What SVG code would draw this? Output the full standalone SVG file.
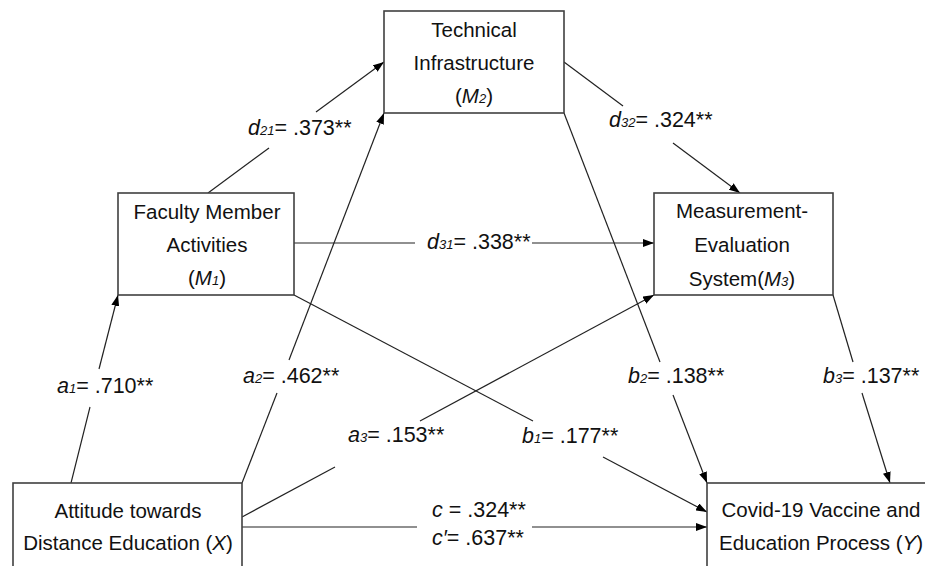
<svg xmlns="http://www.w3.org/2000/svg" width="925" height="566" viewBox="0 0 925 566">
<style>
.box{fill:#fff;stroke:#404040;stroke-width:1.6}
.t{font-family:"Liberation Sans",Arial,sans-serif;font-size:20.5px;fill:#111;text-anchor:middle}
.l{font-family:"Liberation Sans",Arial,sans-serif;font-size:21.5px;fill:#111}
.i{font-style:italic}
.s{font-style:italic;font-size:13px}
.c{stroke:#222;stroke-width:1.2;fill:none}
</style>
<defs>
<marker id="ah" markerWidth="11" markerHeight="8" refX="11" refY="4" orient="auto" markerUnits="userSpaceOnUse">
<path d="M0,0 L11,4 L0,8 z" fill="#000"/>
</marker>
</defs>
<g id="connectors">
<path class="c" d="M208,193 L269,148"/>
<path class="c" d="M316,112 L384,62" marker-end="url(#ah)"/>
<path class="c" d="M564,62 L623,106"/>
<path class="c" d="M673,143 L740,193" marker-end="url(#ah)"/>
<path class="c" d="M294,243 L415,243"/>
<path class="c" d="M532,243 L654,243" marker-end="url(#ah)"/>
<path class="c" d="M71,483 L90,407"/>
<path class="c" d="M99,369 L118,295" marker-end="url(#ah)"/>
<path class="c" d="M242,483 L277,393"/>
<path class="c" d="M289,360 L384,113" marker-end="url(#ah)"/>
<path class="c" d="M242,517 L335,467"/>
<path class="c" d="M420,421 L654,295" marker-end="url(#ah)"/>
<path class="c" d="M294,295 L533,421"/>
<path class="c" d="M603,457 L707,512" marker-end="url(#ah)"/>
<path class="c" d="M564,113 L660,362"/>
<path class="c" d="M673,395 L707,483" marker-end="url(#ah)"/>
<path class="c" d="M833,295 L853,362"/>
<path class="c" d="M862,393 L890,483" marker-end="url(#ah)"/>
<path class="c" d="M242,527 L417,527"/>
<path class="c" d="M532,527 L707,527" marker-end="url(#ah)"/>
<text class="l" x="248" y="135"><tspan class="i">d</tspan><tspan class="s">21</tspan>= .373**</text>
<text class="l" x="609" y="127"><tspan class="i">d</tspan><tspan class="s">32</tspan>= .324**</text>
<text class="l" x="427" y="249"><tspan class="i">d</tspan><tspan class="s">31</tspan>= .338**</text>
<text class="l" x="57" y="393"><tspan class="i">a</tspan><tspan class="s">1</tspan>= .710**</text>
<text class="l" x="243" y="383"><tspan class="i">a</tspan><tspan class="s">2</tspan>= .462**</text>
<text class="l" x="348" y="442"><tspan class="i">a</tspan><tspan class="s">3</tspan>= .153**</text>
<text class="l" x="522" y="443"><tspan class="i">b</tspan><tspan class="s">1</tspan>= .177**</text>
<text class="l" x="628" y="383"><tspan class="i">b</tspan><tspan class="s">2</tspan>= .138**</text>
<text class="l" x="823" y="383"><tspan class="i">b</tspan><tspan class="s">3</tspan>= .137**</text>
<text class="l" x="432" y="517"><tspan class="i">c</tspan> = .324**</text>
<text class="l" x="432" y="545"><tspan class="i">c′</tspan>= .637**</text>
</g>
<g id="M2">
<rect class="box" x="384" y="11" width="180" height="102"/>
<text class="t" x="474" y="37">Technical</text>
<text class="t" x="474" y="70">Infrastructure</text>
<text class="t" x="474" y="103">(<tspan class="i">M</tspan><tspan class="s">2</tspan>)</text>
</g>
<g id="M1">
<rect class="box" x="118" y="193" width="176" height="102"/>
<text class="t" x="207" y="219">Faculty Member</text>
<text class="t" x="207" y="252">Activities</text>
<text class="t" x="207" y="285">(<tspan class="i">M</tspan><tspan class="s">1</tspan>)</text>
</g>
<g id="M3">
<rect class="box" x="654" y="193" width="179" height="102"/>
<text class="t" x="742" y="218">Measurement-</text>
<text class="t" x="742" y="252">Evaluation</text>
<text class="t" x="742" y="286">System(<tspan class="i">M</tspan><tspan class="s">3</tspan>)</text>
</g>
<g id="X">
<rect class="box" x="13" y="483" width="229" height="100"/>
<text class="t" x="128" y="518">Attitude towards</text>
<text class="t" x="128" y="550">Distance Education (<tspan class="i">X</tspan>)</text>
</g>
<g id="Y">
<rect class="box" x="707" y="483" width="240" height="100"/>
<text class="t" x="821" y="517">Covid-19 Vaccine and</text>
<text class="t" x="821" y="550">Education Process (<tspan class="i">Y</tspan>)</text>
</g>
</svg>
